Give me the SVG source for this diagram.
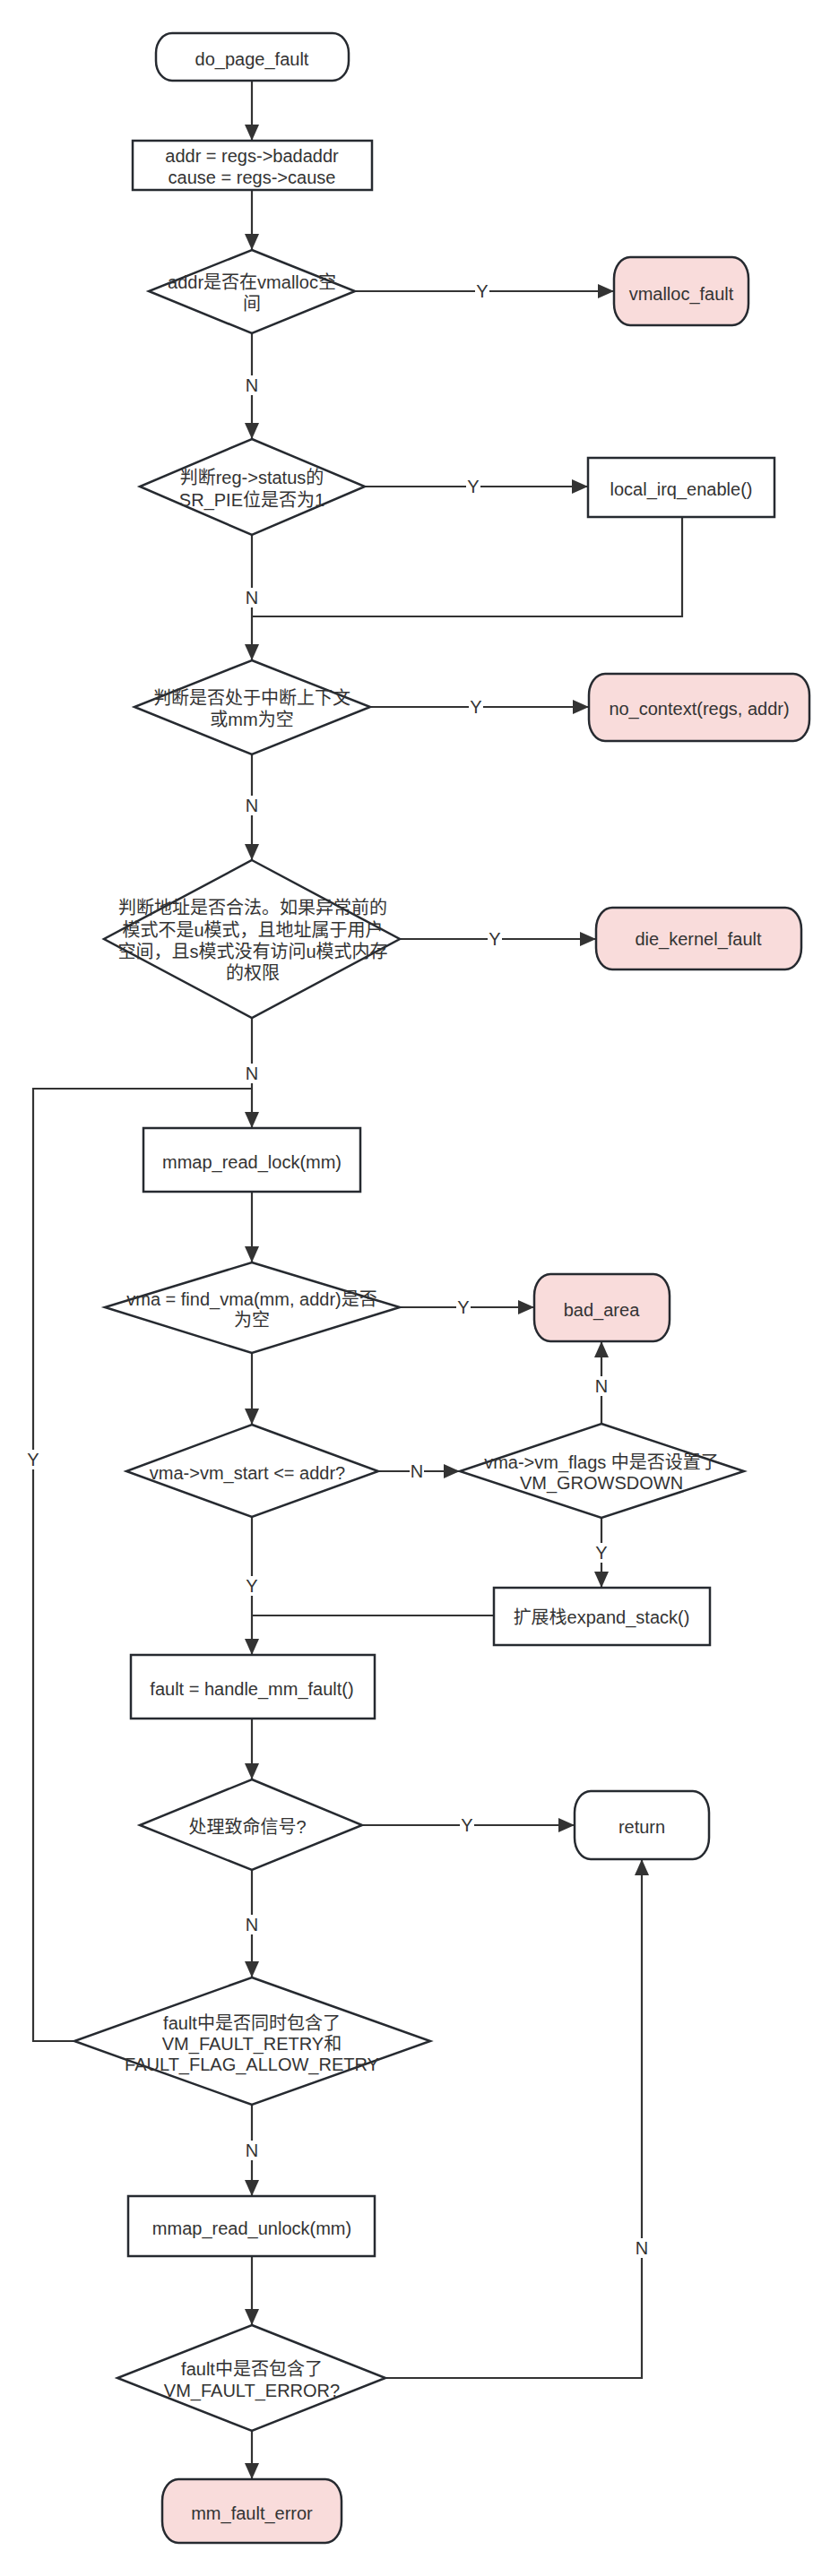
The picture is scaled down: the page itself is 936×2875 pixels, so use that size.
<svg xmlns="http://www.w3.org/2000/svg" width="936" height="2875" viewBox="0 0 936 2875">
<style>
text{font-family:"Liberation Sans","Noto Sans CJK SC",Arial,sans-serif;font-size:20px;fill:#333;text-anchor:middle}
.box{fill:#fff;stroke:#262a30;stroke-width:2.5}
.term{fill:#fff;stroke:#262a30;stroke-width:2.5}
.err{fill:#f9dcdb;stroke:#262a30;stroke-width:2.5}
.dia{fill:#fff;stroke:#262a30;stroke-width:2.5}
.ln{fill:none;stroke:#333;stroke-width:2.2}
.lbg{fill:#fff}
</style>
<defs>
<marker id="ah" markerUnits="userSpaceOnUse" markerWidth="18" markerHeight="16" refX="18" refY="8" orient="auto">
<path d="M0,0 L18,8 L0,16 z" fill="#333"/>
</marker>
</defs>
<rect width="936" height="2875" fill="#fff"/>
<g id="connectors">
<path class="ln" d="M281,90 V157" marker-end="url(#ah)"/>
<path class="ln" d="M281,212 V279" marker-end="url(#ah)"/>
<path class="ln" d="M396,325 H685" marker-end="url(#ah)"/>
<path class="ln" d="M281,372 V490" marker-end="url(#ah)"/>
<path class="ln" d="M407,543 H656" marker-end="url(#ah)"/>
<path class="ln" d="M761,577 V688 H281"/>
<path class="ln" d="M281,597 V737" marker-end="url(#ah)"/>
<path class="ln" d="M413,789 H657" marker-end="url(#ah)"/>
<path class="ln" d="M281,842 V960" marker-end="url(#ah)"/>
<path class="ln" d="M446,1048 H665" marker-end="url(#ah)"/>
<path class="ln" d="M281,1136 V1259" marker-end="url(#ah)"/>
<path class="ln" d="M83,2278 H37 V1215 H281"/>
<path class="ln" d="M281,1330 V1409" marker-end="url(#ah)"/>
<path class="ln" d="M446,1459 H596" marker-end="url(#ah)"/>
<path class="ln" d="M281,1510 V1590" marker-end="url(#ah)"/>
<path class="ln" d="M422,1642 H513" marker-end="url(#ah)"/>
<path class="ln" d="M671,1589 V1497" marker-end="url(#ah)"/>
<path class="ln" d="M671,1694 V1772" marker-end="url(#ah)"/>
<path class="ln" d="M281,1693 V1847" marker-end="url(#ah)"/>
<path class="ln" d="M551,1803 H281"/>
<path class="ln" d="M281,1918 V1986" marker-end="url(#ah)"/>
<path class="ln" d="M404,2037 H641" marker-end="url(#ah)"/>
<path class="ln" d="M281,2087 V2207" marker-end="url(#ah)"/>
<path class="ln" d="M281,2349 V2451" marker-end="url(#ah)"/>
<path class="ln" d="M281,2518 V2595" marker-end="url(#ah)"/>
<path class="ln" d="M430,2654 H716 V2075" marker-end="url(#ah)"/>
<path class="ln" d="M281,2713 V2767" marker-end="url(#ah)"/>
<g id="edge-labels">
<rect class="lbg" x="530" y="314" width="16" height="22"/><text x="538" y="332">Y</text>
<rect class="lbg" x="273" y="419" width="16" height="22"/><text x="281" y="437">N</text>
<rect class="lbg" x="520" y="532" width="16" height="22"/><text x="528" y="550">Y</text>
<rect class="lbg" x="273" y="656" width="16" height="22"/><text x="281" y="674">N</text>
<rect class="lbg" x="523" y="778" width="16" height="22"/><text x="531" y="796">Y</text>
<rect class="lbg" x="273" y="888" width="16" height="22"/><text x="281" y="906">N</text>
<rect class="lbg" x="544" y="1037" width="16" height="22"/><text x="552" y="1055">Y</text>
<rect class="lbg" x="273" y="1187" width="16" height="22"/><text x="281" y="1205">N</text>
<rect class="lbg" x="29" y="1618" width="16" height="22"/><text x="37" y="1636">Y</text>
<rect class="lbg" x="509" y="1448" width="16" height="22"/><text x="517" y="1466">Y</text>
<rect class="lbg" x="457" y="1631" width="16" height="22"/><text x="465" y="1649">N</text>
<rect class="lbg" x="663" y="1536" width="16" height="22"/><text x="671" y="1554">N</text>
<rect class="lbg" x="663" y="1722" width="16" height="22"/><text x="671" y="1740">Y</text>
<rect class="lbg" x="273" y="1759" width="16" height="22"/><text x="281" y="1777">Y</text>
<rect class="lbg" x="513" y="2026" width="16" height="22"/><text x="521" y="2044">Y</text>
<rect class="lbg" x="273" y="2137" width="16" height="22"/><text x="281" y="2155">N</text>
<rect class="lbg" x="273" y="2389" width="16" height="22"/><text x="281" y="2407">N</text>
<rect class="lbg" x="708" y="2498" width="16" height="22"/><text x="716" y="2516">N</text>
</g>
</g>
<g id="do_page_fault"><rect class="term" x="174" y="37" width="215" height="53" rx="18" ry="22"/><text x="281" y="73">do_page_fault</text></g>
<g id="get_addr"><rect class="box" x="148" y="157" width="267" height="55"/><text x="281" y="181">addr = regs-&gt;badaddr</text><text x="281" y="205">cause = regs-&gt;cause</text></g>
<g id="is_vmalloc"><polygon class="dia" points="281,279 396,325 281,372 166,325"/><text x="281" y="322">addr是否在vmalloc空</text><text x="281" y="346">间</text></g>
<g id="vmalloc_fault"><rect class="err" x="685" y="287" width="150" height="76" rx="18" ry="24"/><text x="760" y="335">vmalloc_fault</text></g>
<g id="check_pie"><polygon class="dia" points="281,490 407,543 281,597 156,543"/><text x="281" y="540">判断reg-&gt;status的</text><text x="281" y="565">SR_PIE位是否为1</text></g>
<g id="local_irq_enable"><rect class="box" x="656" y="511" width="208" height="66"/><text x="760" y="553">local_irq_enable()</text></g>
<g id="check_irq"><polygon class="dia" points="281,737 413,789 281,842 150,789"/><text x="281" y="786">判断是否处于中断上下文</text><text x="281" y="810">或mm为空</text></g>
<g id="no_context"><rect class="err" x="657" y="752" width="246" height="75" rx="18" ry="24"/><text x="780" y="798">no_context(regs, addr)</text></g>
<g id="check_addr"><polygon class="dia" points="281,960 446,1048 281,1136 116,1048"/><text x="282" y="1020">判断地址是否合法。如果异常前的</text><text x="282" y="1045">模式不是u模式，且地址属于用户</text><text x="282" y="1069">空间，且s模式没有访问u模式内存</text><text x="282" y="1093">的权限</text></g>
<g id="die_kernel_fault"><rect class="err" x="665" y="1013" width="229" height="69" rx="18" ry="24"/><text x="779" y="1055">die_kernel_fault</text></g>
<g id="mmap_read_lock"><rect class="box" x="160" y="1259" width="242" height="71"/><text x="281" y="1304">mmap_read_lock(mm)</text></g>
<g id="find_vma"><polygon class="dia" points="281,1409 446,1459 281,1510 117,1459"/><text x="281" y="1457">vma = find_vma(mm, addr)是否</text><text x="281" y="1480">为空</text></g>
<g id="bad_area"><rect class="err" x="596" y="1422" width="151" height="75" rx="18" ry="24"/><text x="671" y="1469">bad_area</text></g>
<g id="check_start"><polygon class="dia" points="281,1590 422,1642 281,1693 141,1642"/><text x="276" y="1651">vma-&gt;vm_start &lt;= addr?</text></g>
<g id="check_growsdown"><polygon class="dia" points="671,1589 830,1642 671,1694 513,1642"/><text x="671" y="1639">vma-&gt;vm_flags 中是否设置了</text><text x="671" y="1662">VM_GROWSDOWN</text></g>
<g id="expand_stack"><rect class="box" x="551" y="1772" width="241" height="64"/><text x="671" y="1812">扩展栈expand_stack()</text></g>
<g id="handle_mm_fault"><rect class="box" x="146" y="1847" width="272" height="71"/><text x="281" y="1892">fault = handle_mm_fault()</text></g>
<g id="fatal_signal"><polygon class="dia" points="281,1986 404,2037 281,2087 156,2037"/><text x="276" y="2046">处理致命信号?</text></g>
<g id="return"><rect class="term" x="641" y="1999" width="150" height="76" rx="18" ry="24"/><text x="716" y="2046">return</text></g>
<g id="check_retry"><polygon class="dia" points="281,2207 480,2278 281,2349 83,2278"/><text x="281" y="2265">fault中是否同时包含了</text><text x="281" y="2288">VM_FAULT_RETRY和</text><text x="281" y="2311">FAULT_FLAG_ALLOW_RETRY</text></g>
<g id="mmap_read_unlock"><rect class="box" x="143" y="2451" width="275" height="67"/><text x="281" y="2494">mmap_read_unlock(mm)</text></g>
<g id="check_error"><polygon class="dia" points="281,2595 430,2654 281,2713 131,2654"/><text x="281" y="2651">fault中是否包含了</text><text x="281" y="2675">VM_FAULT_ERROR?</text></g>
<g id="mm_fault_error"><rect class="err" x="181" y="2767" width="200" height="71" rx="18" ry="24"/><text x="281" y="2812">mm_fault_error</text></g>
</svg>
